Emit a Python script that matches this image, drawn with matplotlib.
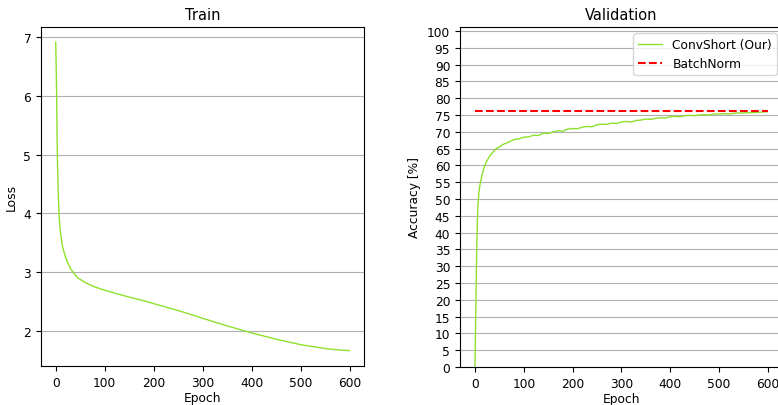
import numpy as np
import matplotlib.pyplot as plt

plt.rcParams['font.size'] = 8.8

# Loss на обучении (эпоха -> значение)
train_epochs = [0, 1, 2, 3, 4, 5, 7, 10, 14, 20, 25, 30, 37, 45, 58, 75, 92,
                120, 146, 175, 200, 255, 300, 350, 400, 452, 500, 554, 580, 599]
train_loss = [6.91, 6.5, 6.0, 5.2, 4.75, 4.4, 3.95, 3.65, 3.43, 3.25, 3.15, 3.06,
              2.98, 2.9, 2.83, 2.76, 2.71, 2.64, 2.58, 2.52, 2.46, 2.33, 2.21,
              2.08, 1.96, 1.85, 1.76, 1.69, 1.67, 1.66]

# Точность на валидации
val_epochs = [0, 1, 2, 3, 4, 5, 6, 8, 10, 12, 15, 20, 25, 30, 37, 45, 50, 55,
              60, 70, 80, 90, 100, 110, 120, 130, 140, 150, 160, 170, 180, 190,
              200, 210, 220, 230, 240, 250, 260, 270, 280, 290, 300, 310, 320,
              330, 340, 350, 360, 370, 380, 390, 400, 410, 420, 430, 440, 450,
              460, 470, 480, 490, 500, 510, 520, 530, 540, 550, 560, 570, 580,
              590, 599]
val_acc = [0.0, 10.0, 20.0, 30.0, 38.0, 44.0, 48.0, 52.0, 54.0, 55.5, 57.5, 60.0,
           61.5, 62.8, 64.0, 65.2, 65.4, 66.1, 66.4, 67.0, 67.7, 67.9, 68.4,
           68.5, 69.0, 68.9, 69.6, 69.5, 70.0, 70.3, 70.2, 70.8, 71.0, 70.9,
           71.4, 71.6, 71.5, 72.1, 72.3, 72.2, 72.6, 72.5, 72.9, 73.1, 72.9,
           73.4, 73.5, 73.8, 73.7, 74.0, 74.2, 74.1, 74.5, 74.6, 74.5, 74.8,
           74.9, 74.8, 75.0, 75.1, 75.0, 75.3, 75.3, 75.4, 75.3, 75.5, 75.6,
           75.6, 75.7, 75.7, 75.8, 75.9, 76.0]

batchnorm_acc = 76.2
green = '#8ee02c'

fig = plt.figure(figsize=(7.78, 4.06), dpi=100)
ax1 = fig.add_axes([41 / 778, 39 / 406, 323 / 778, 339 / 406])
ax2 = fig.add_axes([460 / 778, 38 / 406, 323 / 778, 340 / 406])

ax1.plot(train_epochs, train_loss, color=green, lw=1)
ax1.set_title('Train')
ax1.set_xlabel('Epoch', labelpad=2)
ax1.set_ylabel('Loss')
ax1.set_xticks([0, 100, 200, 300, 400, 500, 600])
ax1.grid(axis='y')

ax2.plot(val_epochs, val_acc, color=green, lw=1, label='ConvShort (Our)')
ax2.plot([0, 600], [batchnorm_acc, batchnorm_acc], 'r--', label='BatchNorm')
ax2.set_title('Validation')
ax2.set_xlabel('Epoch', labelpad=2)
ax2.set_ylabel('Accuracy [%]')
ax2.set_xlim(-30.7, 631)
ax2.set_ylim(0, 101.2)
ax2.set_yticks(np.arange(0, 101, 5))
ax2.set_xticks([0, 100, 200, 300, 400, 500, 600])
ax2.grid(axis='y')
ax2.legend(loc='upper right')

fig.savefig('out.png', dpi=100)
